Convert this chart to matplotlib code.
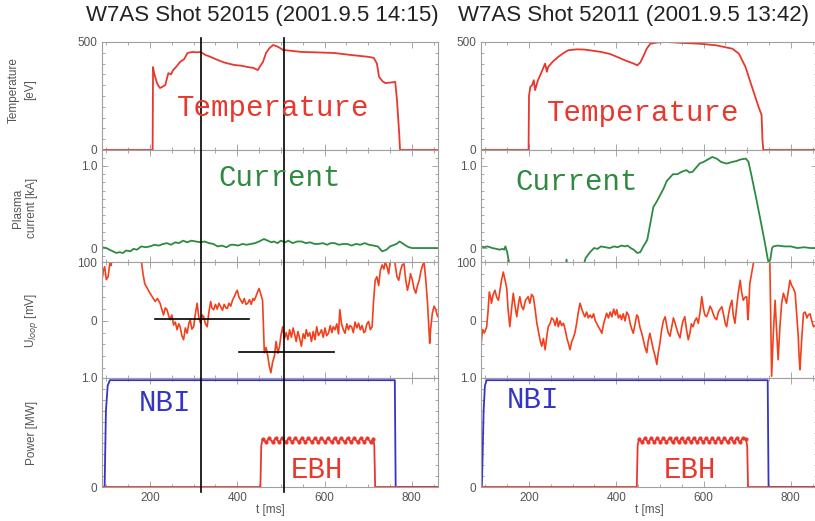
import matplotlib.pyplot as plt
from matplotlib.ticker import MultipleLocator
from matplotlib.transforms import blended_transform_factory

# ---- shot 52015 (left column) ----
t_temp_a = [90, 206, 207, 209, 213, 216, 220, 223, 228, 235, 242, 248, 253, 260, 269, 278, 286, 297, 308, 316,
            327, 340, 355, 370, 392, 410, 424, 437, 447, 453, 459, 466, 474, 482, 488, 494, 505, 520, 547, 580,
            623, 660, 702, 713, 720, 725, 733, 739, 750, 762, 766, 771, 773, 860]
temp_a = [0, 0, 384, 360, 330, 310, 295, 287, 292, 301, 356, 350, 370, 385, 408, 420, 449, 454, 452, 454,
          440, 430, 417, 405, 394, 390, 384, 380, 370, 390, 408, 450, 472, 486, 482, 477, 463, 460, 454, 452,
          449, 440, 431, 426, 400, 338, 318, 310, 312, 315, 231, 79, 0, 0]

t_cur_a = [90, 100, 107, 115, 123, 130, 138, 145, 155, 162, 170, 180, 190, 200, 210, 220, 230, 239, 248, 258,
           266, 276, 285, 295, 305, 316, 325, 335, 345, 355, 365, 375, 385, 392, 402, 412, 422, 431, 441, 450,
           461, 470, 478, 484, 492, 500, 510, 517, 527, 537, 547, 557, 567, 577, 586, 596, 606, 614, 623, 633,
           643, 652, 662, 672, 682, 692, 702, 712, 722, 732, 742, 750, 755, 765, 772, 778, 786, 793, 801, 815,
           830, 845, 860]
cur_a = [0.01, 0.0, -0.02, -0.04, -0.06, -0.05, -0.06, -0.03, -0.04, -0.01, -0.02, 0.02, 0.01, 0.02, 0.04, 0.03,
         0.05, 0.06, 0.04, 0.07, 0.06, 0.09, 0.07, 0.09, 0.08, 0.07, 0.08, 0.06, 0.05, 0.02, 0.03, 0.01, 0.04,
         0.04, 0.03, 0.05, 0.04, 0.05, 0.06, 0.08, 0.11, 0.09, 0.07, 0.08, 0.06, 0.09, 0.07, 0.09, 0.06, 0.08,
         0.08, 0.06, 0.07, 0.05, 0.05, 0.06, 0.04, 0.06, 0.06, 0.04, 0.05, 0.05, 0.03, 0.05, 0.04, 0.06, 0.04,
         0.03, 0.02, -0.04, -0.02, 0.02, 0.03, 0.05, 0.08, 0.06, 0.03, 0.01, 0.0, 0.0, 0.0, 0.0, 0.0]

# loop voltage samples as (t [ms], U [mV]); values above 100 run off the panel
uloop_a = [(90, 69), (93, 85), (96, 92), (100, 70), (104, 75), (108, 98), (111, 94), (115, 130), (175, 130),
           (181, 97), (184, 80), (188, 63), (194, 55), (200, 47), (206, 40), (212, 33), (217, 38), (223, 30),
           (227, 20), (231, 10), (235, 22), (239, 19), (243, 8), (246, 2), (250, 10), (254, -7), (258, -2),
           (262, -15), (266, -5), (269, -10), (273, -25), (277, -32), (281, -12), (285, -21), (289, -5), (292, 2),
           (296, -14), (300, -10), (304, 12), (308, 30), (312, 5), (316, -4), (320, 10), (323, 7), (327, -5),
           (331, -10), (335, 15), (339, 33), (342, 22), (346, 19), (350, 28), (354, 20), (358, 30), (362, 24),
           (366, 18), (370, 28), (374, 22), (377, 21), (381, 30), (385, 25), (389, 35), (393, 41), (397, 48),
           (400, 52), (404, 40), (408, 35), (412, 30), (416, 38), (420, 28), (424, 30), (428, 36), (432, 28),
           (436, 38), (439, 35), (443, 42), (447, 50), (450, 55), (454, 45), (458, 35), (462, -54), (466, -45),
           (470, -60), (473, -75), (477, -88), (481, -70), (485, -60), (489, -35), (493, -55), (497, -43),
           (500, -25), (504, -10), (508, -30), (512, -20), (516, -32), (520, -15), (524, -28), (528, -12),
           (531, -21), (535, -35), (539, -18), (543, -30), (547, -43), (551, -22), (555, -30), (558, -15),
           (562, -26), (566, -20), (570, -35), (574, -18), (578, -32), (582, -10), (586, -25), (590, -20),
           (593, -15), (597, -28), (601, -12), (605, -25), (609, -21), (613, -8), (617, -20), (620, -10),
           (624, -15), (628, -5), (632, -22), (635, 19), (639, -5), (643, -15), (647, -21), (651, -5), (655, -15),
           (658, -8), (662, -10), (666, -20), (670, -2), (674, -12), (678, -4), (682, -15), (686, -8), (690, -20),
           (693, -18), (697, -5), (701, -1), (705, -15), (709, -10), (712, 30), (716, 69), (720, 75), (724, 60),
           (728, 86), (732, 95), (736, 88), (739, 100), (743, 92), (747, 80), (751, 105), (755, 120), (759, 110),
           (763, 90), (766, 75), (770, 69), (774, 85), (778, 95), (782, 97), (786, 70), (790, 52), (794, 65),
           (797, 80), (801, 70), (805, 55), (809, 47), (813, 60), (817, 69), (821, 85), (825, 95), (828, 100),
           (832, 70), (836, 30), (839, -10), (841, -38), (843, -15), (847, 13), (851, 25), (855, 19), (858, 10),
           (860, 7)]

t_nbi_a = [90, 96, 99, 103, 108, 761, 763, 860]
nbi_a = [0, 0, 0.7, 0.93, 0.98, 0.98, 0, 0]

t_ebh_a = [90, 453, 455, 458, 466, 473, 481, 488, 496, 503, 511, 518, 526, 533, 541, 548, 556, 563, 571, 578,
           586, 593, 601, 608, 616, 623, 631, 638, 646, 653, 661, 668, 676, 683, 691, 698, 706, 712, 714, 716,
           860]
ebh_a = [0, 0, 0.38, 0.44, 0.41, 0.45, 0.41, 0.45, 0.41, 0.45, 0.41, 0.45, 0.41, 0.45, 0.41, 0.45, 0.41, 0.45,
         0.41, 0.45, 0.41, 0.45, 0.41, 0.45, 0.41, 0.45, 0.41, 0.45, 0.41, 0.45, 0.41, 0.45, 0.41, 0.45, 0.41,
         0.45, 0.41, 0.44, 0.38, 0, 0]

# ---- shot 52011 (right column) ----
t_temp_b = [90, 199, 200, 203, 207, 211, 214, 220, 229, 237, 241, 244, 255, 267, 280, 290, 310, 327, 345, 365,
            385, 402, 420, 440, 448, 455, 463, 470, 478, 495, 515, 550, 591, 628, 666, 681, 696, 711, 726, 733,
            735, 737, 860]
temp_b = [0, 0, 250, 292, 300, 323, 277, 320, 362, 400, 362, 385, 410, 431, 450, 462, 466, 465, 460, 454,
          445, 431, 415, 400, 392, 405, 438, 470, 492, 498, 500, 496, 492, 485, 469, 446, 385, 292, 200, 162,
          46, 0, 0]

t_cur_b = [90, 97, 105, 116, 125, 133, 139, 143, 146, 150, 155, 160, 283, 286, 289, 320, 330, 340, 349, 357,
           365, 375, 385, 395, 403, 412, 420, 426, 433, 440, 448, 455, 462, 471, 478, 485, 492, 500, 508, 516,
           523, 530, 540, 550, 561, 568, 575, 583, 591, 600, 610, 620, 630, 640, 652, 660, 666, 675, 685, 697,
           703, 712, 722, 732, 740, 746, 749, 753, 757, 760, 770, 785, 800, 815, 830, 845, 860]
cur_b = [0.02, 0.01, 0.02, 0.0, -0.01, -0.02, -0.01, -0.02, 0.02, -0.05, -0.2, -0.3, -0.3, -0.14, -0.3, -0.3,
         -0.12, -0.05, 0.0, -0.01, 0.02, 0.01, 0.0, 0.02, 0.01, 0.03, 0.02, 0.03, 0.0, -0.02, -0.06, -0.05, 0.02,
         0.1, 0.3, 0.5, 0.56, 0.64, 0.72, 0.82, 0.86, 0.9, 0.9, 0.93, 0.95, 0.92, 0.93, 0.98, 1.03, 1.05, 1.08,
         1.11, 1.09, 1.05, 1.03, 1.04, 1.05, 1.06, 1.08, 1.09, 1.05, 0.83, 0.57, 0.3, 0.08, -0.1, -0.18, -0.14,
         0.0, 0.02, 0.03, 0.02, 0.02, 0.0, 0.01, 0.0, 0.0]

uloop_b = [(90, -43), (92, -25), (94, -15), (98, -20), (103, -10), (106, 15), (109, 49), (112, 40), (114, 30),
           (118, 45), (122, 52), (126, 40), (130, 35), (134, 55), (137, 69), (139, 75), (141, 83), (145, 70),
           (149, 55), (152, 20), (156, -10), (160, 20), (164, 47), (168, 25), (172, 7), (176, 30), (179, 41),
           (183, 25), (187, 19), (192, 35), (198, 41), (202, 30), (206, 45), (210, 41), (214, 20), (218, -4),
           (222, -20), (226, -35), (229, -43), (233, -30), (237, -49), (241, -25), (244, -10), (248, -5), (252, 5),
           (256, 2), (260, -8), (264, 5), (267, -10), (271, 0), (275, -8), (279, -4), (283, -15), (287, -30),
           (291, -40), (294, -49), (298, -35), (301, -30), (305, -21), (309, -5), (313, 15), (317, 30), (321, 20),
           (325, 12), (328, 7), (332, 15), (336, 5), (340, 10), (344, 5), (348, 12), (352, 0), (355, -4),
           (359, -10), (363, -15), (367, -21), (371, -5), (375, 5), (378, 13), (382, 5), (386, 15), (390, 7),
           (394, 20), (398, 10), (401, 19), (405, 5), (409, 10), (412, 2), (416, 12), (420, 0), (424, 15),
           (428, 10), (432, -5), (436, -15), (439, -21), (443, -5), (447, 10), (450, 7), (454, -10), (458, -20),
           (462, -32), (466, -45), (470, -54), (473, -35), (477, -21), (481, -35), (485, -49), (489, -60),
           (493, -74), (496, -55), (500, -38), (504, -15), (508, 0), (512, 7), (516, -10), (519, -20), (523, -26),
           (527, -10), (531, 5), (535, -4), (539, -15), (542, -22), (546, -29), (550, -10), (553, 0), (557, 7),
           (561, -15), (565, -32), (569, -20), (572, -5), (576, -10), (580, 0), (584, 5), (588, -4), (592, 15),
           (596, 41), (600, 20), (603, 10), (607, 7), (611, 15), (615, 25), (619, 19), (623, 10), (626, 5),
           (630, 2), (634, 15), (638, 20), (642, 24), (646, 10), (650, -5), (653, -10), (657, 10), (661, 25),
           (665, 35), (668, 10), (672, -4), (676, 25), (680, 50), (684, 69), (687, 50), (691, 35), (695, 40),
           (699, 41), (701, 10), (702, 2), (704, 30), (706, 63), (710, 80), (714, 97), (718, 120), (748, 120),
           (752, 97), (756, -94), (760, -20), (764, 35), (767, -10), (771, -66), (775, -10), (779, 30), (783, 47),
           (786, 40), (790, 30), (794, 50), (798, 69), (802, 60), (806, 55), (810, 47), (813, 15), (817, -26),
           (819, -60), (821, -83), (825, -30), (829, 13), (833, 15), (837, 5), (840, 10), (844, 12), (848, 0),
           (852, -10), (856, -8), (860, -5)]

t_nbi_b = [90, 92, 96, 99, 103, 747, 749, 860]
nbi_b = [0, 0, 0.7, 0.93, 0.98, 0.98, 0, 0]

t_ebh_b = [90, 447, 449, 452, 459, 466, 473, 480, 487, 494, 501, 508, 515, 522, 529, 536, 543, 550, 557, 564,
           571, 578, 585, 592, 599, 606, 613, 620, 627, 634, 641, 648, 655, 662, 669, 676, 683, 690, 697, 700,
           702, 860]
ebh_b = [0, 0, 0.38, 0.44, 0.41, 0.45, 0.41, 0.45, 0.41, 0.45, 0.41, 0.45, 0.41, 0.45, 0.41, 0.45, 0.41, 0.45,
         0.41, 0.45, 0.41, 0.45, 0.41, 0.45, 0.41, 0.45, 0.41, 0.45, 0.41, 0.45, 0.41, 0.45, 0.41, 0.45, 0.41,
         0.45, 0.41, 0.45, 0.44, 0.38, 0, 0]

titles = ["W7AS Shot 52015 (2001.9.5 14:15)", "W7AS Shot 52011 (2001.9.5 13:42)"]
title_x = [262, 633]

# time markers and error crosses on shot 52015
marker_times = [318, 507]
cross_t = [(212, 427), (404, 621)]
cross_u = [3, -52]

RED = "#e8382e"
ORANGE = "#f2401c"
GREEN = "#2e8a40"
BLUE = "#3434c8"
GRAY = "#555555"
MONO = ["Liberation Mono", "DejaVu Sans Mono"]
SANS = ["Liberation Sans", "DejaVu Sans"]

W, H = 815, 521
fig = plt.figure(figsize=(W / 100, H / 100), dpi=100)

col_left = [102, 481]
col_width = 336
rows = [(42, 150), (150, 262), (262, 378), (378, 487)]
ylims = [(0, 500), (-0.17, 1.195), (-97, 100), (0, 1.0)]
yticks = [([0, 500], ["0", "500"]), ([0, 1.0], ["0", "1.0"]),
          ([0, 100], ["0", "100"]), ([0, 1.0], ["0", "1.0"])]
yminor = [50, 0.1, 20, 0.1]


def make_axes(col):
    axs = []
    for r, (top, bot) in enumerate(rows):
        ax = fig.add_axes([col_left[col] / W, 1 - bot / H, col_width / W, (bot - top) / H])
        ax.set_xlim(90, 860)
        ax.set_ylim(*ylims[r])
        ax.set_yticks(yticks[r][0])
        ax.set_yticklabels(yticks[r][1])
        ax.yaxis.set_minor_locator(MultipleLocator(yminor[r]))
        ax.xaxis.set_major_locator(MultipleLocator(200))
        ax.xaxis.set_minor_locator(MultipleLocator(50))
        ax.tick_params(which="both", direction="in", top=True, right=True, colors="#999999",
                       labelcolor=GRAY, labelsize=8.5, width=0.6)
        ax.tick_params(which="major", length=4)
        ax.tick_params(which="minor", length=2)
        for lab in ax.get_yticklabels() + ax.get_xticklabels():
            lab.set_family(SANS)
        for s in ax.spines.values():
            s.set_color("#a0a0a0")
            s.set_linewidth(0.8)
        if r < 3:
            ax.tick_params(labelbottom=False)
        else:
            ax.text(0.5, -0.21, "t [ms]", transform=ax.transAxes, ha="center", va="center",
                    fontsize=8.5, color=GRAY, family=SANS)
        axs.append(ax)
    return axs


data = [
    (t_temp_a, temp_a, t_cur_a, cur_a, uloop_a, t_nbi_a, nbi_a, t_ebh_a, ebh_a),
    (t_temp_b, temp_b, t_cur_b, cur_b, uloop_b, t_nbi_b, nbi_b, t_ebh_b, ebh_b),
]
label_pos = [
    {"Temperature": (273, 108), "Current": (280, 178), "NBI": (165, 403), "EBH": (317, 470)},
    {"Temperature": (643, 113), "Current": (577, 182), "NBI": (533, 400), "EBH": (690, 470)},
]
label_colors = {"Temperature": RED, "Current": GREEN, "NBI": BLUE, "EBH": RED}

for col in range(2):
    axs = make_axes(col)
    tt, te, tc, cu, ul, tn, nb, tb, eb = data[col]
    tu, uu = zip(*ul)
    axs[0].plot(tt, te, color=RED, lw=1.3)
    axs[1].plot(tc, cu, color=GREEN, lw=1.3)
    axs[2].plot(tu, uu, color=ORANGE, lw=1.2)
    axs[3].plot(tn, nb, color=BLUE, lw=1.3)
    axs[3].plot(tb, eb, color=RED, lw=1.3)
    axs[3].plot(tb[3:-3], eb[3:-3], color=RED, lw=0, marker="o", ms=2)

    for name, (px, py) in label_pos[col].items():
        fig.text(px / W, 1 - py / H, name, ha="center", va="center", fontsize=21,
                 color=label_colors[name], family=MONO)

    fig.text(title_x[col] / W, 1 - 15 / H, titles[col], ha="center", va="center",
             fontsize=16, color="#222222", family=SANS)

    if col == 0:
        # marker lines run through all four panels
        trans = blended_transform_factory(axs[0].transData, fig.transFigure)
        for tm in marker_times:
            fig.add_artist(plt.Line2D([tm, tm], [1 - 38 / H, 1 - 492 / H], transform=trans,
                                      color="black", lw=1.2))
        for (t0, t1), u in zip(cross_t, cross_u):
            axs[2].plot([t0, t1], [u, u], color="black", lw=1.2)

# axis titles for the left column
ylabels = [("Temperature", 14, 90), ("[eV]", 30, 90), ("Plasma", 18, 208), ("current [kA]", 32, 208),
           ("U$_{loop}$ [mV]", 32, 320), ("Power [MW]", 32, 433)]
for txt, px, py in ylabels:
    fig.text(px / W, 1 - py / H, txt, rotation=90, ha="center", va="center", fontsize=8.5,
             color=GRAY, family=SANS)

fig.savefig("out.png", dpi=100)
